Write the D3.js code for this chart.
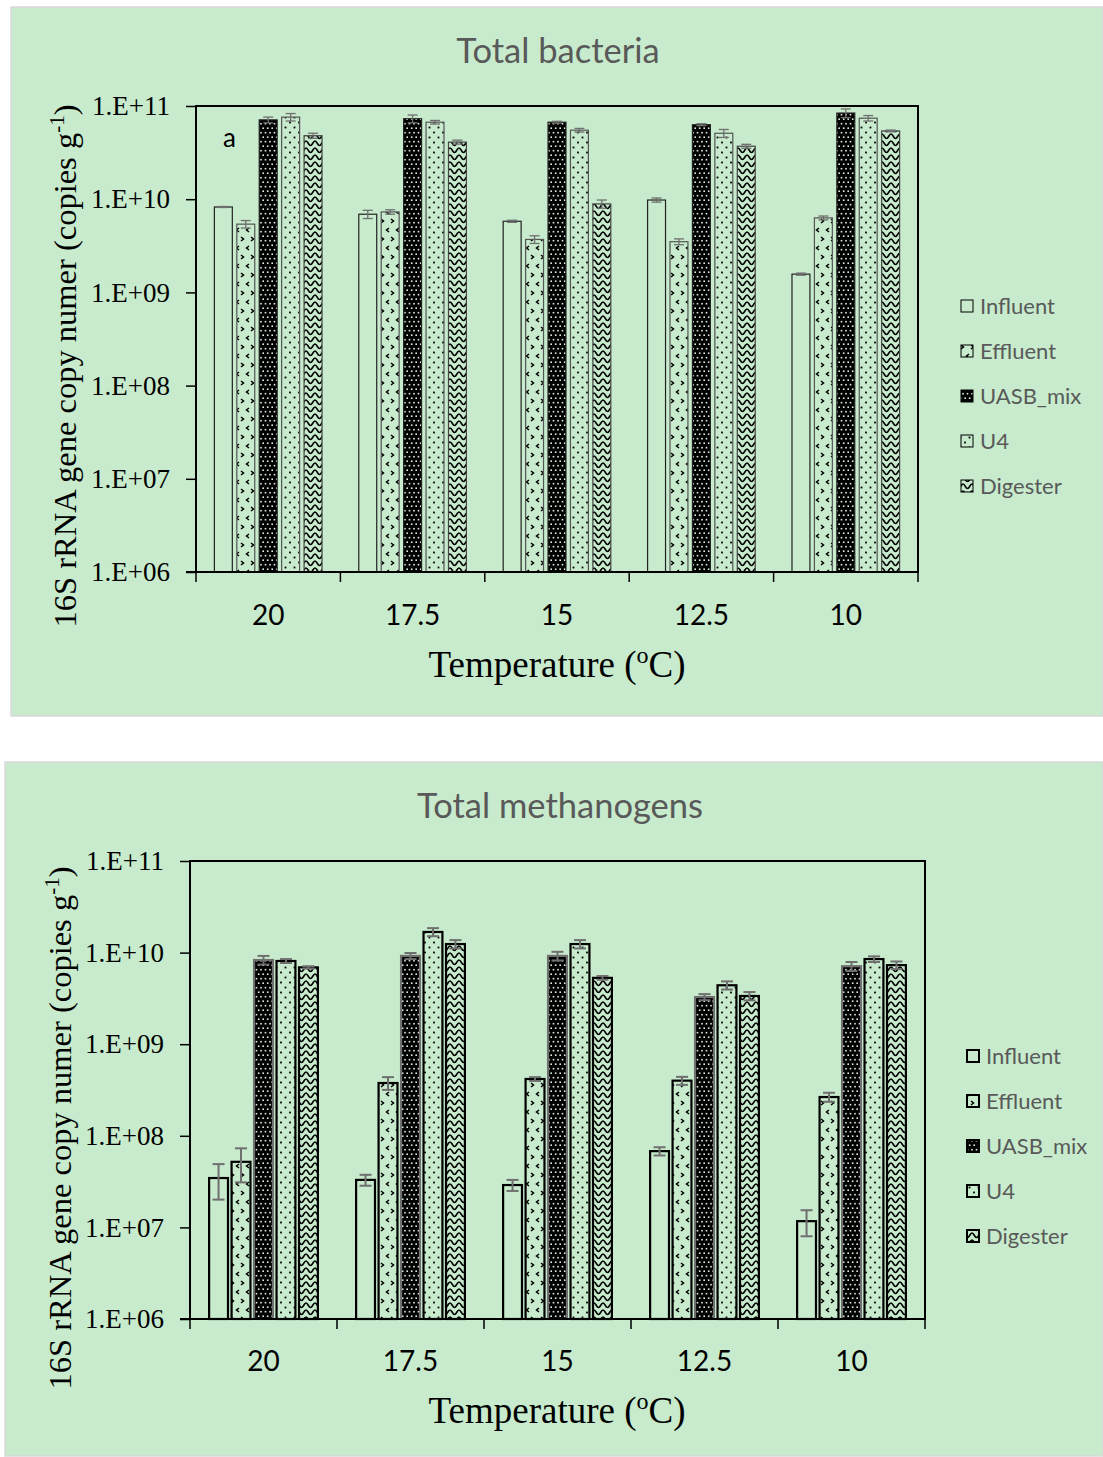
<!DOCTYPE html>
<html><head><meta charset="utf-8">
<script src="https://cdn.jsdelivr.net/npm/d3@7"></script>
<style>
html,body{margin:0;padding:0;background:#fff;}
svg{display:block;}
</style></head>
<body>
<svg id="chart" width="1103" height="1457"></svg>
<script>
// ---------- DATA ----------
const categories = ["20", "17.5", "15", "12.5", "10"];
const seriesNames = ["Influent", "Effluent", "UASB_mix", "U4", "Digester"];
const yTickValues = [1e6, 1e7, 1e8, 1e9, 1e10, 1e11];

// Total bacteria (copies g-1)
const bactInfluent = [8.25e9, 6.9e9, 5.8e9, 9.8e9, 1.57e9];
const bactEffluent = [5.4e9, 7.3e9, 3.7e9, 3.5e9, 6.3e9];
const bactUASB = [7.1e10, 7.3e10, 6.7e10, 6.3e10, 8.4e10];
const bactU4 = [7.6e10, 6.7e10, 5.5e10, 5.1e10, 7.4e10];
const bactDigester = [4.8e10, 4.1e10, 8.9e9, 3.7e10, 5.4e10];
const bactInfluentErr = [0.1e9, 0.7e9, 0.15e9, 0.5e9, 0.04e9];
const bactEffluentErr = [0.5e9, 0.4e9, 0.35e9, 0.25e9, 0.3e9];
const bactUASBErr = [5e9, 7e9, 1.5e9, 1.5e9, 9e9];
const bactU4Err = [7e9, 3e9, 2.5e9, 5e9, 5e9];
const bactDigesterErr = [3e9, 2e9, 0.9e9, 1.8e9, 1.2e9];

// Total methanogens (copies g-1)
const methInfluent = [3.46e7, 3.3e7, 2.9e7, 6.8e7, 1.17e7];
const methEffluent = [5.2e7, 3.77e8, 4.17e8, 4.0e8, 2.65e8];
const methUASB = [8.3e9, 9.2e9, 9.2e9, 3.27e9, 7.1e9];
const methU4 = [8.1e9, 1.68e10, 1.24e10, 4.4e9, 8.5e9];
const methDigester = [6.9e9, 1.24e10, 5.3e9, 3.36e9, 7.3e9];
const methInfluentErr = [1.45e7, 0.45e7, 0.4e7, 0.7e7, 0.37e7];
const methEffluentErr = [2.1e7, 0.6e8, 0.2e8, 0.4e8, 0.3e8];
const methUASBErr = [0.9e9, 0.7e9, 1.0e9, 0.25e9, 0.8e9];
const methU4Err = [0.4e9, 1.7e9, 1.3e9, 0.45e9, 0.6e9];
const methDigesterErr = [0.2e9, 1.3e9, 0.25e9, 0.35e9, 0.7e9];

// ---------- DRAWING ----------
const svg = d3.select("#chart");
const BG = "#c7ebcc";
const defs = svg.append("defs");

function makePatterns(prefix) {
  // Effluent: small chevrons
  let p = defs.append("pattern").attr("id", prefix + "eff").attr("patternUnits", "userSpaceOnUse")
    .attr("width", 10).attr("height", 18);
  p.append("path").attr("d", "M1,3 L3.5,5 L1,7 M9,12 L6.5,14 L9,16").attr("fill", "none")
    .attr("stroke", "#000").attr("stroke-width", 1.5);
  // UASB: black with light dots
  p = defs.append("pattern").attr("id", prefix + "uasb").attr("patternUnits", "userSpaceOnUse")
    .attr("width", 9).attr("height", 9);
  p.append("rect").attr("width", 9).attr("height", 9).attr("fill", "#000");
  [[2.2, 2.2], [6.7, 2.2], [0, 6.7], [4.5, 6.7], [9, 6.7]].forEach(d =>
    p.append("rect").attr("x", d[0] - 0.8).attr("y", d[1] - 0.8).attr("width", 1.6).attr("height", 1.6).attr("fill", "#d8f0dc"));
  // U4: sparse black dots
  p = defs.append("pattern").attr("id", prefix + "u4").attr("patternUnits", "userSpaceOnUse")
    .attr("width", 9).attr("height", 10);
  [[2, 2.5], [6.5, 7.5]].forEach(d =>
    p.append("rect").attr("x", d[0] - 0.9).attr("y", d[1] - 0.9).attr("width", 1.8).attr("height", 1.8).attr("fill", "#000"));
  // Digester: waves
  p = defs.append("pattern").attr("id", prefix + "dig").attr("patternUnits", "userSpaceOnUse")
    .attr("width", 9).attr("height", 7);
  p.append("path").attr("d", "M0,1 C2,1 2.5,5.5 4.5,5.5 C6.5,5.5 7,1 9,1").attr("fill", "none")
    .attr("stroke", "#000").attr("stroke-width", 1.6);
}
makePatterns("p");

const fills = ["none", "url(#peff)", "url(#puasb)", "url(#pu4)", "url(#pdig)"];

function drawPanel(cfg) {
  const g = svg.append("g");
  g.append("rect").attr("x", cfg.panel[0]).attr("y", cfg.panel[1])
    .attr("width", cfg.panel[2]).attr("height", cfg.panel[3])
    .attr("fill", BG).attr("stroke", "#d9d9d9").attr("stroke-width", 1.5);

  const x = d3.scaleBand().domain(categories).range([cfg.left, cfg.right]).paddingInner(0).paddingOuter(0);
  const xs = d3.scaleBand().domain(seriesNames).range([0, x.bandwidth()])
    .paddingInner(cfg.pIn).paddingOuter(cfg.pOut);
  const y = d3.scaleLog().domain([1e6, 1e11]).range([cfg.bottom, cfg.top]);

  // bars
  cfg.series.forEach((vals, si) => {
    const errs = cfg.errors[si];
    const name = seriesNames[si];
    const sg = g.append("g");
    sg.selectAll("rect").data(categories).join("rect")
      .attr("x", c => x(c) + xs(name))
      .attr("y", (c, i) => y(vals[i]))
      .attr("width", xs.bandwidth())
      .attr("height", (c, i) => y(1e6) - y(vals[i]))
      .attr("fill", fills[si])
      .attr("stroke", cfg.barStroke[si])
      .attr("stroke-width", cfg.barStrokeW);
    // error bars
    const eg = g.append("g").attr("stroke", "#6f6f6f").attr("stroke-width", cfg.errW);
    categories.forEach((c, i) => {
      const cx = x(c) + xs(name) + xs.bandwidth() / 2;
      const y1 = y(vals[i] + errs[i]), y2 = y(Math.max(vals[i] - errs[i], 1e6));
      eg.append("line").attr("x1", cx).attr("x2", cx).attr("y1", y1).attr("y2", y2);
      eg.append("line").attr("x1", cx - cfg.cap).attr("x2", cx + cfg.cap).attr("y1", y1).attr("y2", y1);
      eg.append("line").attr("x1", cx - cfg.cap).attr("x2", cx + cfg.cap).attr("y1", y2).attr("y2", y2);
    });
  });

  // frame
  g.append("rect").attr("x", cfg.left).attr("y", cfg.top).attr("width", cfg.right - cfg.left)
    .attr("height", cfg.bottom - cfg.top).attr("fill", "none").attr("stroke", "#000").attr("stroke-width", 2);

  // y axis
  const yAxis = d3.axisLeft(y).tickValues(yTickValues)
    .tickFormat(d => "1.E+" + String(Math.round(Math.log10(d))).padStart(2, "0"))
    .tickSizeInner(10).tickSizeOuter(0).tickPadding(16);
  const ya = g.append("g").attr("transform", `translate(${cfg.left},0)`).call(yAxis);
  ya.select(".domain").remove();
  ya.selectAll("line").attr("stroke", "#000").attr("stroke-width", 1.5);
  ya.selectAll("text").attr("font-family", "'Liberation Serif','Times New Roman',serif")
    .attr("font-size", 27).attr("fill", "#000");

  // x axis labels
  const xAxis = d3.axisBottom(x).tickSize(0).tickPadding(cfg.xLabPad);
  const xa = g.append("g").attr("transform", `translate(0,${cfg.bottom})`).call(xAxis);
  xa.select(".domain").remove();
  xa.selectAll("text").attr("font-family", "Lato,'Open Sans',sans-serif").attr("font-size", 28).attr("fill", "#000");
  // boundary ticks
  const bounds = categories.map(c => x(c)).concat([cfg.right]);
  g.append("g").selectAll("line").data(bounds).join("line")
    .attr("x1", d => d).attr("x2", d => d).attr("y1", cfg.bottom).attr("y2", cfg.bottom + 10)
    .attr("stroke", "#000").attr("stroke-width", 1.5);
  g.append("line").attr("x1", cfg.left - 10).attr("x2", cfg.right).attr("y1", cfg.bottom).attr("y2", cfg.bottom)
    .attr("stroke", "#000").attr("stroke-width", 2);

  // title
  g.append("text").attr("x", cfg.titleX).attr("y", cfg.titleY).attr("text-anchor", "middle")
    .attr("font-family", "Lato,'Open Sans',sans-serif").attr("font-size", 34.5).attr("fill", "#595959")
    .text(cfg.title);

  // x title
  const xt = g.append("text").attr("x", cfg.xTitleX).attr("y", cfg.xTitleY).attr("text-anchor", "middle")
    .attr("font-family", "'Liberation Serif','Times New Roman',serif").attr("font-size", 37).attr("fill", "#000");
  xt.append("tspan").text("Temperature (");
  xt.append("tspan").attr("font-size", 24).attr("dy", -14).text("o");
  xt.append("tspan").attr("dy", 14).text("C)");

  // y title
  const yt = g.append("text").attr("transform", `translate(${cfg.yTitleX},${cfg.yTitleY}) rotate(-90)`)
    .attr("text-anchor", "middle")
    .attr("font-family", "'Liberation Serif','Times New Roman',serif").attr("font-size", 32.5).attr("fill", "#000");
  yt.append("tspan").text("16S rRNA gene copy numer (copies g");
  yt.append("tspan").attr("font-size", 21).attr("dy", -12).text("-1");
  yt.append("tspan").attr("dy", 12).text(")");

  if (cfg.letter) {
    g.append("text").attr("x", cfg.letter[0]).attr("y", cfg.letter[1])
      .attr("font-family", "Lato,'Open Sans',sans-serif").attr("font-size", 26).attr("fill", "#000").text("a");
  }

  // legend
  const lg = g.append("g");
  seriesNames.forEach((n, i) => {
    const yy = cfg.legY + i * 45;
    lg.append("rect").attr("x", cfg.legX).attr("y", yy - 6).attr("width", 12).attr("height", 12)
      .attr("fill", fills[i] === "none" ? BG : fills[i]).attr("stroke", "#000").attr("stroke-width", cfg.legStroke);
    lg.append("text").attr("x", cfg.legX + 19).attr("y", yy + 8)
      .attr("font-family", "Lato,'Open Sans',sans-serif").attr("font-size", 22).attr("fill", "#595959").text(n);
  });
}

drawPanel({
  panel: [11, 7, 1092, 709],
  left: 196, right: 918, top: 106, bottom: 572,
  pIn: 0.2, pOut: 0.82,
  series: [bactInfluent, bactEffluent, bactUASB, bactU4, bactDigester],
  errors: [bactInfluentErr, bactEffluentErr, bactUASBErr, bactU4Err, bactDigesterErr],
  barStroke: ["#222", "#555", "#222", "#555", "#444"], barStrokeW: 1.2,
  errW: 1.3, cap: 5,
  xLabPad: 33,
  title: "Total bacteria", titleX: 558, titleY: 63,
  xTitleX: 557, xTitleY: 677,
  yTitleX: 76, yTitleY: 366,
  letter: [223, 147],
  legX: 961, legY: 306, legStroke: 1
});

drawPanel({
  panel: [5, 762, 1098, 694],
  left: 190, right: 925, top: 861, bottom: 1319,
  pIn: 0.16, pOut: 0.85,
  series: [methInfluent, methEffluent, methUASB, methU4, methDigester],
  errors: [methInfluentErr, methEffluentErr, methUASBErr, methU4Err, methDigesterErr],
  barStroke: ["#000", "#000", "#707070", "#000", "#000"], barStrokeW: 2.2,
  errW: 2, cap: 6,
  xLabPad: 32,
  title: "Total methanogens", titleX: 560, titleY: 818,
  xTitleX: 557, xTitleY: 1423,
  yTitleX: 71, yTitleY: 1128,
  letter: null,
  legX: 967, legY: 1056, legStroke: 2
});
</script>
</body></html>
